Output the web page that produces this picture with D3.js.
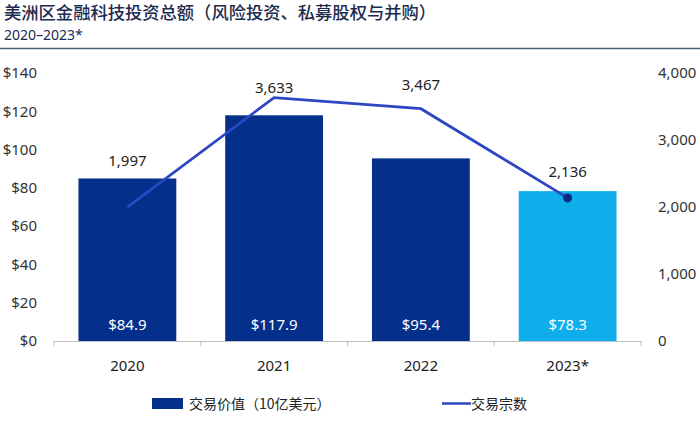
<!DOCTYPE html>
<html><head><meta charset="utf-8">
<script src="https://cdn.jsdelivr.net/npm/d3@7"></script>
<style>
html,body{margin:0;padding:0;background:#fff;}
svg{display:block;font-family:"Noto Sans","Noto Sans CJK SC",sans-serif;}
</style></head>
<body><svg id="c" width="700" height="421"></svg>
<script>
const categories = ["2020","2021","2022","2023*"];
const dealValue = [84.9,117.9,95.4,78.3];      // $ billions
const dealCount = [1997,3633,3467,2136];
const leftTicks = [0,20,40,60,80,100,120,140];
const rightTicks = [0,1000,2000,3000,4000];
const labelOffsets = [18,10,24,19];
const title = "美洲区金融科技投资总额（风险投资、私募股权与并购）";
const subtitle = "2020–2023*";
const legendBar = "交易价值（10亿美元）";
const legendLine = "交易宗数";

const svg = d3.select("#c");
const plotL = 54, plotR = 641, plotT = 73, plotB = 341;

svg.append("text").attr("x",4).attr("y",19).attr("fill","#1b2b4f")
  .attr("font-size",17.3).attr("font-weight",500).attr("font-family","Noto Sans CJK SC").text(title);
svg.append("text").attr("x",4).attr("y",40).attr("fill","#1b2b4f")
  .attr("font-size",14).text(subtitle);
svg.append("line").attr("x1",0).attr("x2",700).attr("y1",48.5).attr("y2",48.5)
  .attr("stroke","#4b5f7d").attr("stroke-width",1.5);

const x = d3.scaleBand().domain(categories).range([plotL,plotR]).paddingInner(1/3).paddingOuter(1/6);
const yL = d3.scaleLinear().domain([0,140]).range([plotB,plotT]);
const yR = d3.scaleLinear().domain([0,4000]).range([plotB,plotT]);

// baseline with ticks at band boundaries
const step = x.step();
svg.append("line").attr("x1",plotL).attr("x2",plotR).attr("y1",plotB+0.5).attr("y2",plotB+0.5)
  .attr("stroke","#bfbfbf").attr("stroke-width",1);
d3.range(categories.length+1).forEach(i=>{
  const xx = plotL + i*step;
  svg.append("line").attr("x1",xx).attr("x2",xx).attr("y1",plotB).attr("y2",plotB+5)
    .attr("stroke","#bfbfbf");
});

// left axis labels
svg.append("g").selectAll("text").data(leftTicks).join("text")
  .attr("x",37).attr("y",d=>yL(d)).attr("dy","0.35em").attr("text-anchor","end")
  .attr("font-size",15).attr("fill","#333").text(d=>"$"+d);
// right axis labels
svg.append("g").selectAll("text").data(rightTicks).join("text")
  .attr("x",658).attr("y",d=>yR(d)).attr("dy","0.35em").attr("text-anchor","start")
  .attr("font-size",15).attr("fill","#333").text(d=>d3.format(",")(d));
// x labels
svg.append("g").selectAll("text").data(categories).join("text")
  .attr("x",d=>x(d)+x.bandwidth()/2).attr("y",366).attr("dy","0.35em").attr("text-anchor","middle")
  .attr("font-size",15).attr("fill","#222").text(d=>d);

// bars
svg.append("g").selectAll("rect").data(dealValue).join("rect")
  .attr("x",(d,i)=>x(categories[i])).attr("width",x.bandwidth())
  .attr("y",d=>yL(d)).attr("height",d=>plotB-yL(d))
  .attr("fill",(d,i)=>i===categories.length-1?"#0eaeea":"#04308c");
svg.append("g").selectAll("text").data(dealValue).join("text")
  .attr("x",(d,i)=>x(categories[i])+x.bandwidth()/2).attr("y",325).attr("dy","0.35em")
  .attr("text-anchor","middle").attr("font-size",15).attr("fill","#fff")
  .text(d=>"$"+d3.format(".1f")(d));

// line
const cx = i=>x(categories[i])+x.bandwidth()/2;
svg.append("path").datum(dealCount)
  .attr("d",d3.line().x((d,i)=>cx(i)).y(d=>yR(d)))
  .attr("fill","none").attr("stroke","#2c47c2").attr("stroke-width",2.8);
const last = dealCount.length-1;
svg.append("circle").attr("cx",cx(last)).attr("cy",yR(dealCount[last])).attr("r",4.5).attr("fill","#0a2b80");

// count labels
svg.append("g").selectAll("text").data(dealCount).join("text")
  .attr("x",(d,i)=>cx(i))
  .attr("y",(d,i)=>Math.min(yR(d),yL(dealValue[i]))-labelOffsets[i]).attr("dy","0.35em")
  .attr("text-anchor","middle").attr("font-size",15).attr("fill","#222")
  .text(d=>d3.format(",")(d));

// legend
svg.append("rect").attr("x",152).attr("y",398).attr("width",31).attr("height",11).attr("fill","#04308c");
svg.append("text").attr("x",189).attr("y",404).attr("dy","0.35em").attr("font-size",14)
  .attr("fill","#222").attr("font-family","Noto Sans CJK SC").text(legendBar);
svg.append("line").attr("x1",442).attr("x2",471).attr("y1",403.5).attr("y2",403.5)
  .attr("stroke","#2c47c2").attr("stroke-width",2.5);
svg.append("text").attr("x",471).attr("y",404).attr("dy","0.35em").attr("font-size",14)
  .attr("fill","#222").attr("font-family","Noto Sans CJK SC").text(legendLine);
</script></body></html>
